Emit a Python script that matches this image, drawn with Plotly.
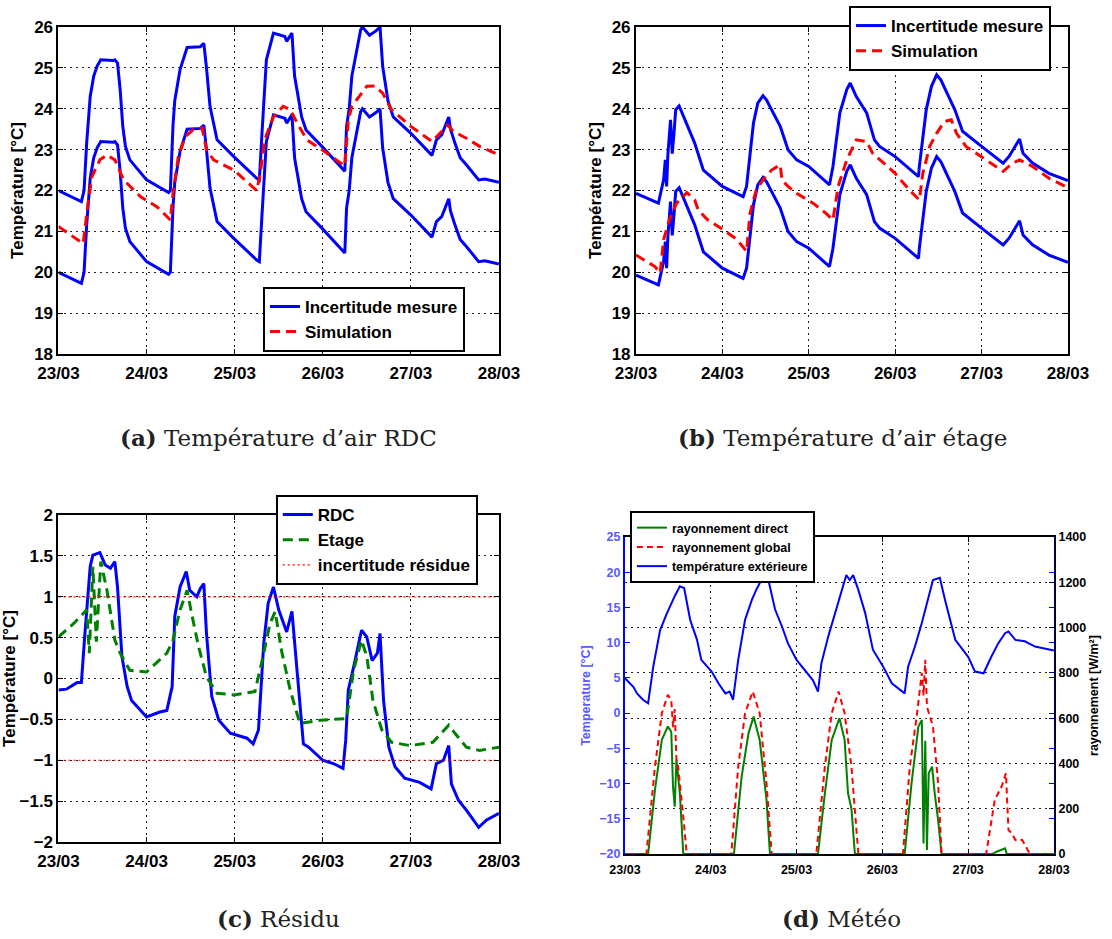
import plotly.graph_objects as go

# ---------------- data ----------------
date_labels = ["23/03", "24/03", "25/03", "26/03", "27/03", "28/03"]
day_ticks = [0, 1, 2, 3, 4, 5]
t_range = [0, 5]

u_mesure = 1.0          # incertitude de mesure (+/- °C)
u_residu = 1.0          # incertitude résidue (+/- °C)

# (a) RDC : mesure et simulation
t_a = [0.00, 0.26, 0.29, 0.32, 0.36, 0.40, 0.44, 0.48, 0.62, 0.64, 0.67, 0.70, 0.73, 0.76, 0.81, 1.00,
       1.25, 1.27, 1.30, 1.32, 1.38, 1.46, 1.61, 1.65, 1.68, 1.72, 1.80, 1.99, 2.25, 2.28, 2.31, 2.36,
       2.44, 2.57, 2.59, 2.65, 2.68, 2.76, 2.81, 2.99, 3.25, 3.27, 3.30, 3.33, 3.43, 3.45, 3.53, 3.60,
       3.65, 3.68, 3.74, 3.80, 4.00, 4.24, 4.29, 4.35, 4.43, 4.45, 4.50, 4.56, 4.63, 4.77, 4.84, 5.00]
mesure_rdc = [21.0, 20.73, 21.0, 22.16, 23.3, 23.8, 24.05, 24.2, 24.18, 24.2, 24.12, 23.47, 22.57, 22.08,
              21.75, 21.26, 20.95, 21.0, 22.6, 23.2, 23.96, 24.5, 24.52, 24.6, 24.0, 23.06, 22.24, 21.83,
              21.3, 21.26, 22.4, 24.2, 24.85, 24.77, 24.65, 24.85, 23.8, 22.8, 22.48, 22.08, 21.47, 22.57,
              23.0, 23.8, 24.93, 25.0, 24.8, 24.9, 25.0, 24.04, 23.2, 22.8, 22.4, 21.86, 22.24, 22.36,
              22.8, 22.5, 22.16, 21.8, 21.63, 21.26, 21.28, 21.2]
t_sim_a = [0.00, 0.28, 0.33, 0.38, 0.47, 0.55, 0.64, 0.74, 0.93, 1.12, 1.27, 1.30, 1.36, 1.44, 1.53, 1.63,
           1.68, 1.76, 1.99, 2.25, 2.29, 2.34, 2.44, 2.55, 2.63, 2.71, 2.82, 2.99, 3.25, 3.29, 3.33, 3.41,
           3.50, 3.59, 3.68, 3.78, 4.00, 4.24, 4.42, 4.48, 4.63, 4.78, 5.00]
sim_rdc = [21.12, 20.7, 21.6, 22.34, 22.75, 22.87, 22.75, 22.26, 21.85, 21.6, 21.28, 21.93, 22.83, 23.32,
           23.49, 23.53, 23.0, 22.75, 22.5, 22.0, 22.4, 23.24, 23.8, 24.06, 23.98, 23.65, 23.24, 23.0,
           22.6, 23.73, 24.06, 24.3, 24.55, 24.56, 24.38, 23.98, 23.57, 23.2, 23.6, 23.45, 23.28, 23.08, 22.87]

# (b) étage : mesure et simulation
t_b = [0.00, 0.26, 0.32, 0.34, 0.355, 0.37, 0.40, 0.42, 0.44, 0.46, 0.50, 0.57, 0.68, 0.78, 1.00, 1.24,
       1.28, 1.36, 1.41, 1.47, 1.51, 1.67, 1.76, 1.86, 2.00, 2.24, 2.28, 2.36, 2.44, 2.48, 2.55, 2.67,
       2.76, 2.82, 3.00, 3.27, 3.28, 3.36, 3.42, 3.48, 3.53, 3.69, 3.78, 4.00, 4.25, 4.32, 4.40, 4.44,
       4.48, 4.59, 4.78, 5.00]
mesure_etage = [20.93, 20.69, 21.26, 21.75, 21.1, 21.9, 22.73, 21.9, 22.4, 22.98, 23.07, 22.73, 22.16, 21.5,
                21.1, 20.85, 21.1, 22.65, 23.14, 23.32, 23.22, 22.57, 22.0, 21.75, 21.59, 21.14, 21.59,
                22.9, 23.47, 23.63, 23.3, 22.9, 22.24, 22.08, 21.83, 21.34, 21.59, 22.98, 23.55, 23.83,
                23.7, 22.98, 22.45, 22.08, 21.67, 21.84, 22.1, 22.26, 21.91, 21.67, 21.42, 21.24]
t_sim_b = [0.00, 0.22, 0.28, 0.32, 0.39, 0.47, 0.59, 0.68, 0.72, 0.82, 1.01, 1.17, 1.28, 1.32, 1.39, 1.47,
           1.57, 1.67, 1.69, 1.76, 1.86, 2.05, 2.20, 2.28, 2.34, 2.44, 2.55, 2.67, 2.74, 3.00, 3.17, 3.28,
           3.32, 3.40, 3.48, 3.57, 3.65, 3.71, 3.82, 4.00, 4.25, 4.36, 4.44, 4.59, 4.78, 5.00]
sim_etage = [20.42, 20.14, 19.98, 20.8, 21.3, 21.69, 21.95, 21.77, 21.53, 21.3, 21.04, 20.8, 20.51, 21.44,
             22.0, 22.26, 22.5, 22.63, 22.26, 22.1, 21.93, 21.69, 21.44, 21.28, 22.1, 22.75, 23.24, 23.2,
             22.91, 22.42, 22.0, 21.77, 22.42, 23.08, 23.4, 23.69, 23.73, 23.4, 23.08, 22.83, 22.47,
             22.67, 22.75, 22.59, 22.3, 22.07]

# (c) résidus
t_res_rdc = [0.00, 0.09, 0.21, 0.26, 0.30, 0.36, 0.39, 0.47, 0.53, 0.59, 0.64, 0.67, 0.72, 0.78, 0.83, 1.00,
             1.15, 1.23, 1.29, 1.32, 1.38, 1.45, 1.49, 1.57, 1.61, 1.65, 1.68, 1.74, 1.82, 1.95, 2.14, 2.21,
             2.27, 2.33, 2.38, 2.44, 2.50, 2.59, 2.65, 2.69, 2.78, 2.84, 3.00, 3.12, 3.23, 3.26, 3.29, 3.35,
             3.44, 3.50, 3.56, 3.62, 3.65, 3.69, 3.75, 3.82, 3.93, 4.10, 4.23, 4.29, 4.37, 4.43, 4.46, 4.54,
             4.63, 4.77, 4.86, 5.00]
res_rdc = [-0.14, -0.13, -0.05, -0.05, 0.55, 1.37, 1.51, 1.54, 1.39, 1.35, 1.43, 1.12, 0.27, -0.1, -0.27,
           -0.47, -0.41, -0.39, -0.1, 0.76, 1.12, 1.31, 1.08, 1.0, 1.1, 1.16, 0.55, -0.22, -0.51, -0.67,
           -0.73, -0.8, -0.63, 0.43, 0.92, 1.12, 0.84, 0.57, 0.82, 0.35, -0.8, -0.84, -1.0, -1.04, -1.1,
           -0.76, -0.14, 0.14, 0.59, 0.51, 0.22, 0.31, 0.55, -0.27, -0.84, -1.08, -1.22, -1.27, -1.35,
           -1.04, -1.0, -0.82, -1.29, -1.49, -1.61, -1.82, -1.73, -1.65]
t_res_etage = [0.00, 0.17, 0.32, 0.35, 0.39, 0.43, 0.48, 0.55, 0.64, 0.70, 0.81, 1.00, 1.23, 1.30, 1.38,
               1.46, 1.51, 1.59, 1.68, 1.80, 1.99, 2.23, 2.33, 2.40, 2.46, 2.53, 2.63, 2.74, 2.97, 3.27,
               3.35, 3.44, 3.50, 3.57, 3.67, 3.78, 3.99, 4.25, 4.43, 4.50, 4.63, 4.78, 5.00]
res_etage = [0.51, 0.67, 0.84, 0.31, 1.37, 0.45, 1.43, 1.08, 0.47, 0.31, 0.1, 0.08, 0.31, 0.47, 0.84, 1.08,
             0.8, 0.39, 0.02, -0.18, -0.2, -0.16, 0.31, 0.67, 0.82, 0.35, -0.14, -0.55, -0.51, -0.49,
             0.1, 0.47, 0.27, -0.27, -0.63, -0.78, -0.82, -0.78, -0.57, -0.67, -0.84, -0.88, -0.84]
res_ticks = [-2, -1.5, -1, -0.5, 0, 0.5, 1, 1.5, 2]
res_ticktext = ["\u22122", "\u22121.5", "\u22121", "\u22120.5", "0", "0.5", "1", "1.5", "2"]

# (d) météo
t_text = [0.00, 0.06, 0.10, 0.14, 0.21, 0.27, 0.33, 0.41, 0.49, 0.58, 0.64, 0.69, 0.76, 0.84, 0.89, 1.01,
          1.09, 1.17, 1.22, 1.26, 1.32, 1.40, 1.48, 1.53, 1.59, 1.64, 1.67, 1.75, 1.83, 1.90, 2.00, 2.10,
          2.19, 2.25, 2.29, 2.37, 2.45, 2.53, 2.58, 2.62, 2.66, 2.72, 2.80, 2.89, 3.01, 3.11, 3.21, 3.26,
          3.30, 3.38, 3.46, 3.53, 3.59, 3.67, 3.73, 3.85, 3.94, 4.00, 4.08, 4.18, 4.27, 4.35, 4.43, 4.47,
          4.55, 4.66, 4.78, 5.00]
temp_ext = [4.95, 4.2, 3.7, 2.8, 1.9, 1.4, 6.6, 11.8, 14.2, 16.6, 18.0, 17.75, 13.25, 10.4, 7.56, 5.9,
            4.24, 2.8, 3.05, 1.9, 7.56, 13.25, 16.1, 17.5, 18.9, 20.6, 18.9, 14.7, 12.3, 9.9, 7.56, 6.14,
            4.7, 3.05, 7.1, 10.9, 14.2, 17.3, 19.6, 18.9, 19.6, 17.5, 14.2, 9.0, 6.6, 4.24, 3.3, 2.8,
            6.6, 9.45, 12.8, 16.1, 18.9, 19.2, 16.1, 10.4, 9.0, 8.0, 5.9, 5.66, 8.0, 9.9, 11.35, 11.6,
            10.4, 10.2, 9.45, 8.9]
t_global = [0.00, 0.25, 0.35, 0.43, 0.50, 0.54, 0.56, 0.58, 0.60, 0.62, 0.68, 0.72, 1.24, 1.32, 1.40, 1.49,
            1.57, 1.65, 1.71, 2.23, 2.33, 2.41, 2.49, 2.56, 2.64, 2.72, 3.24, 3.32, 3.40, 3.46, 3.48, 3.50,
            3.52, 3.54, 3.59, 3.65, 3.69, 4.21, 4.31, 4.39, 4.44, 4.47, 4.51, 4.55, 4.63, 4.72, 5.00]
ray_global = [0, 0, 386, 622, 703, 681, 560, 640, 420, 386, 165, 0, 0, 386, 622, 718, 622, 312, 0, 0, 386,
              622, 718, 622, 386, 0, 0, 386, 607, 800, 700, 858, 650, 622, 563, 312, 0, 0, 239, 298, 357,
              106, 91, 62, 62, 0, 0]
t_direct = [0.00, 0.27, 0.35, 0.43, 0.50, 0.54, 0.56, 0.58, 0.60, 0.64, 0.68, 1.27, 1.36, 1.44, 1.50, 1.57,
            1.65, 1.69, 2.25, 2.33, 2.41, 2.50, 2.56, 2.60, 2.64, 2.68, 3.26, 3.34, 3.42, 3.46, 3.48, 3.50,
            3.52, 3.54, 3.58, 3.61, 3.65, 3.69, 4.28, 4.33, 4.43, 4.45, 5.00]
ray_direct = [0, 0, 283, 504, 563, 540, 298, 209, 416, 268, 0, 0, 342, 533, 607, 504, 239, 0, 0, 268, 504,
              600, 504, 268, 200, 0, 0, 312, 563, 592, 47, 500, 18, 357, 386, 268, 150, 0, 0, 10, 25, 0, 0]

# ---------------- figure ----------------
BLUE = "#0000ff"
RED = "#ff0000"
GREEN = "#008000"
LBLUE = "#5a5aff"
NAVY = "#000040"
SANS = "Liberation Sans"
GRID = dict(showgrid=True, gridcolor="#222222", griddash="2px,4px", gridwidth=1, zeroline=False)

fig = go.Figure()

def band(m, u, sign):
    return [v + sign * u for v in m]

# (a)
fig.add_trace(go.Scatter(x=t_a, y=band(mesure_rdc, u_mesure, +1), mode="lines",
                         line=dict(color=BLUE, width=3), name="Incertitude mesure",
                         legend="legend", legendgroup="ma", xaxis="x", yaxis="y"))
fig.add_trace(go.Scatter(x=t_a, y=band(mesure_rdc, u_mesure, -1), mode="lines",
                         line=dict(color=BLUE, width=3), showlegend=False,
                         legend="legend", legendgroup="ma", xaxis="x", yaxis="y"))
fig.add_trace(go.Scatter(x=t_sim_a, y=sim_rdc, mode="lines",
                         line=dict(color=RED, width=3, dash="10px,6px"), name="Simulation",
                         legend="legend", xaxis="x", yaxis="y"))
# (b)
fig.add_trace(go.Scatter(x=t_b, y=band(mesure_etage, u_mesure, +1), mode="lines",
                         line=dict(color=BLUE, width=3), name="Incertitude mesure",
                         legend="legend2", legendgroup="mb", xaxis="x2", yaxis="y2"))
fig.add_trace(go.Scatter(x=t_b, y=band(mesure_etage, u_mesure, -1), mode="lines",
                         line=dict(color=BLUE, width=3), showlegend=False,
                         legend="legend2", legendgroup="mb", xaxis="x2", yaxis="y2"))
fig.add_trace(go.Scatter(x=t_sim_b, y=sim_etage, mode="lines",
                         line=dict(color=RED, width=3, dash="10px,6px"), name="Simulation",
                         legend="legend2", xaxis="x2", yaxis="y2"))
# (c)
fig.add_trace(go.Scatter(x=t_res_rdc, y=res_rdc, mode="lines", line=dict(color=BLUE, width=3),
                         name="RDC", legend="legend3", xaxis="x3", yaxis="y3"))
fig.add_trace(go.Scatter(x=t_res_etage, y=res_etage, mode="lines",
                         line=dict(color=GREEN, width=3, dash="10px,6px"),
                         name="Etage", legend="legend3", xaxis="x3", yaxis="y3"))
fig.add_trace(go.Scatter(x=t_range, y=[u_residu, u_residu], mode="lines",
                         line=dict(color=RED, width=1.2, dash="2px,3px"),
                         name="incertitude résidue", legend="legend3", legendgroup="ir",
                         xaxis="x3", yaxis="y3"))
fig.add_trace(go.Scatter(x=t_range, y=[-u_residu, -u_residu], mode="lines",
                         line=dict(color=RED, width=1.2, dash="2px,3px"), showlegend=False,
                         legend="legend3", legendgroup="ir", xaxis="x3", yaxis="y3"))
# (d)
fig.add_trace(go.Scatter(x=t_direct, y=ray_direct, mode="lines", line=dict(color=GREEN, width=2),
                         name="rayonnement direct", legend="legend4", xaxis="x4", yaxis="y5"))
fig.add_trace(go.Scatter(x=t_global, y=ray_global, mode="lines",
                         line=dict(color=RED, width=2, dash="6px,4px"),
                         name="rayonnement global", legend="legend4", xaxis="x4", yaxis="y5"))
fig.add_trace(go.Scatter(x=t_text, y=temp_ext, mode="lines", line=dict(color=BLUE, width=2),
                         name="température extérieure", legend="legend4", xaxis="x4", yaxis="y4"))

def xax(domain, anchor, size=17):
    return dict(domain=domain, anchor=anchor, range=t_range, tickvals=day_ticks, ticktext=date_labels,
                automargin=False, showline=True, linecolor="black", linewidth=2, mirror="ticks",
                ticks="inside", ticklen=5, tickcolor="black", ticklabelstandoff=3,
                tickfont=dict(family=SANS, size=size, color="black", weight="bold"), **GRID)

def yax(domain, anchor, rng, tickvals, ticktext=None, title="Température [°C]", size=17):
    d = dict(domain=domain, anchor=anchor, range=rng, tickvals=tickvals, automargin=False,
             showline=True, linecolor="black", linewidth=2, mirror="ticks",
             ticks="inside", ticklen=5, tickcolor="black",
             tickfont=dict(family=SANS, size=size, color="black", weight="bold"),
             title=dict(text=title, font=dict(family=SANS, size=size, color="black", weight="bold"),
                        standoff=6), **GRID)
    if ticktext is not None:
        d["ticktext"] = ticktext
    return d

temp_ticks = [18, 19, 20, 21, 22, 23, 24, 25, 26]

leg_common = dict(xanchor="left", yanchor="top", bordercolor="black", borderwidth=2,
                  bgcolor="white", tracegroupgap=0)

fig.update_layout(
    template="none",
    width=1112, height=939, margin=dict(l=0, r=0, t=0, b=0, autoexpand=False),
    paper_bgcolor="white", plot_bgcolor="white",
    xaxis=xax([0.0526, 0.4487], "y"),
    yaxis=yax([0.623, 0.9712], "x", [18, 26], temp_ticks),
    xaxis2=xax([0.5719, 0.9604], "y2"),
    yaxis2=yax([0.623, 0.9712], "x2", [18, 26], temp_ticks),
    xaxis3=xax([0.0526, 0.4487], "y3"),
    yaxis3=yax([0.1033, 0.4515], "x3", [-2, 2], res_ticks, res_ticktext),
    xaxis4=xax([0.5620, 0.9478], "y4", size=12.5),
    yaxis4=dict(domain=[0.0905, 0.4281], anchor="x4", range=[-20, 25], dtick=5, automargin=False,
                showline=True, linecolor=BLUE, linewidth=2, mirror="ticks",
                ticks="inside", ticklen=5, tickcolor=BLUE, showgrid=False, zeroline=False,
                tickfont=dict(family=SANS, size=12.5, color=LBLUE, weight="bold"),
                title=dict(text="Temperature [°C]", standoff=6,
                           font=dict(family=SANS, size=12.5, color=LBLUE, weight="bold"))),
    yaxis5=dict(anchor="x4", overlaying="y4", side="right", range=[0, 1400], dtick=200, automargin=False,
                showline=True, linecolor=NAVY, linewidth=2,
                ticks="inside", ticklen=5, tickcolor=NAVY,
                tickfont=dict(family=SANS, size=12.5, color="black", weight="bold"),
                title=dict(text="rayonnement [W/m²]", standoff=4,
                           font=dict(family=SANS, size=12.5, color="black", weight="bold")),
                **GRID),
    legend=dict(x=0.2365, y=0.6944, font=dict(family=SANS, size=17, color="black", weight="bold"),
                **leg_common),
    legend2=dict(x=0.7635, y=0.9936, font=dict(family=SANS, size=17, color="black", weight="bold"),
                 **leg_common),
    legend3=dict(x=0.248, y=0.4728, font=dict(family=SANS, size=17, color="black", weight="bold"),
                 **leg_common),
    legend4=dict(x=0.5665, y=0.4558, font=dict(family=SANS, size=12.5, color="black", weight="bold"),
                 **leg_common),
)

captions = [
    (0.25, 0.5346, "<b>(a)</b> Température d’air RDC"),
    (0.758, 0.5346, "<b>(b)</b> Température d’air étage"),
    (0.25, 0.0213, "<b>(c)</b> Résidu"),
    (0.757, 0.0213, "<b>(d)</b> Météo"),
]
for cx, cy, txt in captions:
    fig.add_annotation(x=cx, y=cy, xref="paper", yref="paper", text=txt, showarrow=False,
                       xanchor="center", yanchor="middle",
                       font=dict(family="DejaVu Serif", size=23, color="#222222"))

fig.write_html("out.html", config={"displayModeBar": False},
               post_script="document.body.style.margin='0';document.body.style.padding='0';")
